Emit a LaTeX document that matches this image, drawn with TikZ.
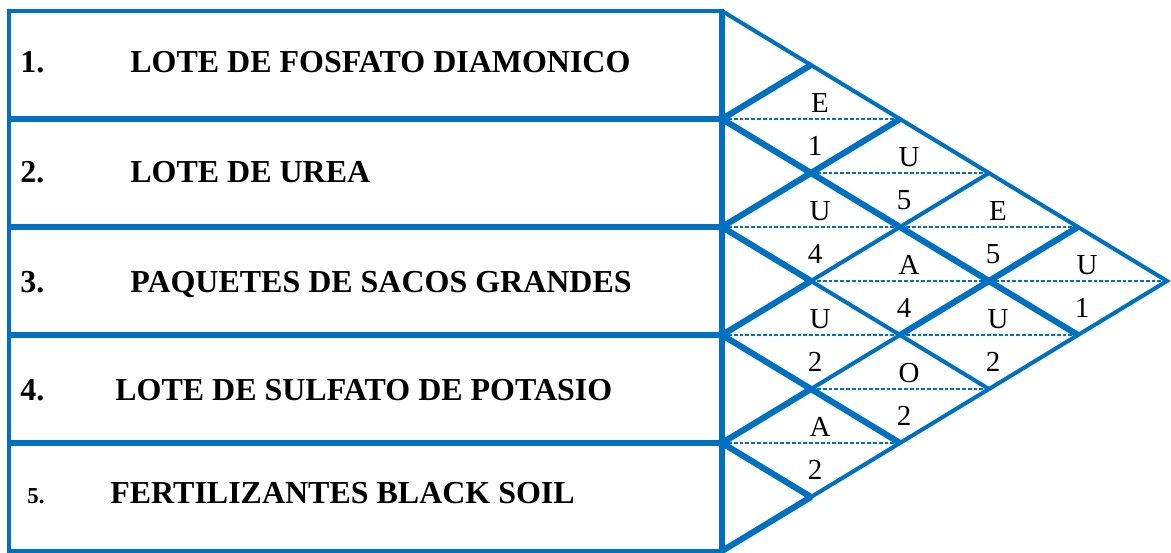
\documentclass[tikz,border=0pt]{standalone}
\usepackage{fontspec}
\setmainfont{Liberation Serif}
\usepackage{tikz}

\begin{document}
\begin{tikzpicture}[
  x=0.02cm, y=-0.02cm,
  frame/.style={draw=chartBlue, line width=2pt},
  rowline/.style={draw=chartBlue, line width=3.3pt},
  edge/.style={draw=chartBlue, line width=2.3pt},
  heavy/.style={draw=chartBlue, line width=3.5pt},
  midline/.style={draw=chartBlue, line width=0.8pt, dash pattern=on 2.2pt off 1.1pt},
  item/.style={font=\fontsize{18.2}{20}\selectfont\bfseries, anchor=base west, inner sep=0pt},
  grade/.style={font=\fontsize{16.5}{18}\selectfont, inner sep=0pt},
]
\definecolor{chartBlue}{HTML}{0070C0}
\useasboundingbox (0,0) rectangle (1171,552);

% Activity list on the left: one row per area.
\draw[frame] (9,11) rectangle (722,551);
\foreach \r in {1,...,4}
  \draw[rowline] (9,{11+108*\r}) -- (722,{11+108*\r});
\draw[rowline] (722,11) -- (722,551);

\node[item] (num1) at (20,72) {1.};
\node[item] (item1) at (130,72) {LOTE DE FOSFATO DIAMONICO};
\node[item] (num2) at (20,182) {2.};
\node[item] (item2) at (130,182) {LOTE DE UREA};
\node[item] (num3) at (20,292) {3.};
\node[item] (item3) at (130,292) {PAQUETES DE SACOS GRANDES};
\node[item] (num4) at (20,400) {4.};
\node[item] (item4) at (115,400) {LOTE DE SULFATO DE POTASIO};
\node[item, font=\fontsize{13}{15}\selectfont\bfseries] (num5) at (27,503) {5.};
\node[item] (item5) at (110,503) {FERTILIZANTES BLACK SOIL};

% Relationship triangle: outer edges and the diagonal grid.
\draw[edge] (722,11) -- (1167,281) -- (722,551);
\foreach \i in {1,...,4} {
  \draw[edge] (722,{11+108*\i}) -- ++({89*(5-\i)},{54*(5-\i)});
  \draw[edge] (722,{11+108*\i}) -- ++({89*\i},{-54*\i});
}
% some grid segments are drawn heavier in the original
\foreach \ka/\ra/\kb/\rb in {0/2/4/6, 0/4/1/5, 0/6/2/8, 0/8/1/9, 0/2/1/1,
                             0/4/2/2, 0/6/1/5, 0/8/1/7, 2/6/4/4, 0/10/1/9}
  \draw[heavy] ({722+89*\ka},{11+54*\ra}) -- ({722+89*\kb},{11+54*\rb});

% One diamond per pair of rows: closeness letter above, reason below.
\foreach \i/\j/\rela/\wgt in {1/2/E/1, 1/3/U/5, 1/4/E/5, 1/5/U/1, 2/3/U/4,
                              2/4/A/4, 2/5/U/2, 3/4/U/2, 3/5/O/2, 4/5/A/2} {
  \draw[midline] ({728+89*(\j-\i-1)},{54*(\i+\j)-43})
    -- ({716+89*(\j-\i+1)},{54*(\i+\j)-43});
  \node[grade] (rel\i\j) at ({731+89*(\j-\i)},{54*(\i+\j)-59}) {\rela};
  \node[grade] (wgt\i\j) at ({726+89*(\j-\i)},{54*(\i+\j)-16}) {\wgt};
}
\end{tikzpicture}
\end{document}
